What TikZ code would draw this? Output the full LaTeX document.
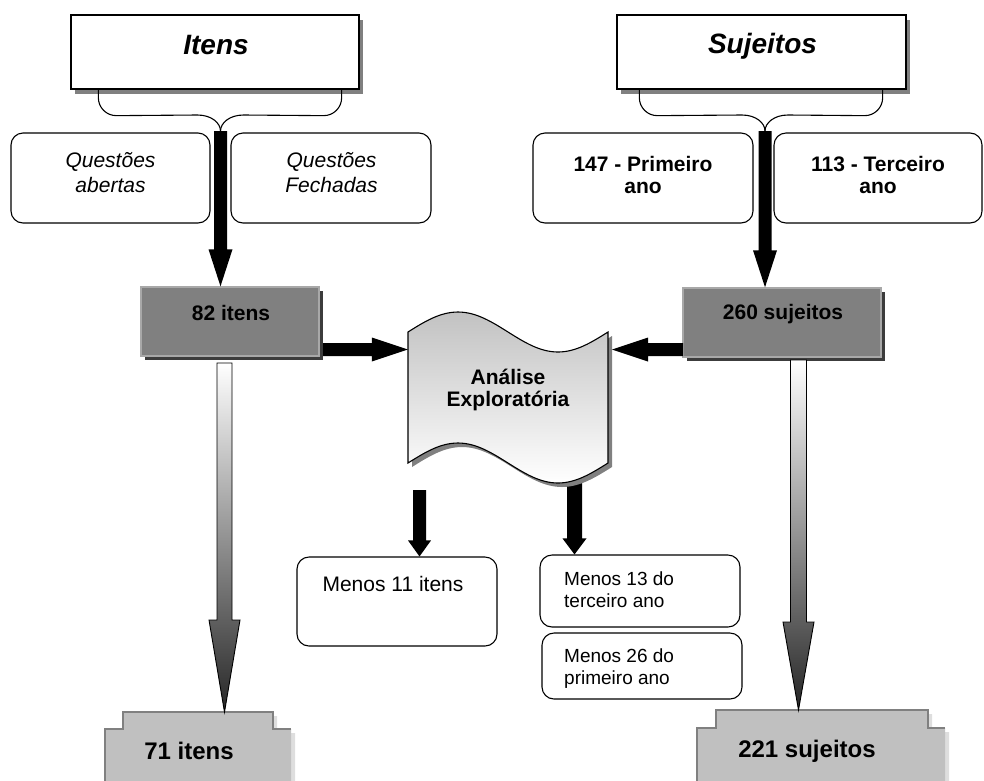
\documentclass[tikz,border=0pt]{standalone}
\usepackage{fontspec}
\setmainfont{Liberation Sans}
\usetikzlibrary{calc,shadows}

\definecolor{shadowgray}{HTML}{808080}
\definecolor{midgray}{HTML}{808080}
\definecolor{darkshadow}{HTML}{3C3C3C}
\definecolor{edgegray}{HTML}{A8A8A8}
\definecolor{plategray}{HTML}{C0C0C0}
\definecolor{paleshadow}{HTML}{DEDEDE}
\definecolor{tapetop}{HTML}{C2C2C2}

% block arrow: style, tail, tip, shaft half width, head half width, head length
\newcommand\blockarrow[6]{%
  \path (#2) coordinate (batail) (#3) coordinate (batip);
  \path ($(batip)!#6!(batail)$) coordinate (baneck);
  \path[#1] ($(batail)!#4!90:(batip)$) -- ($(baneck)!#4!90:(batip)$)
    -- ($(baneck)!#5!90:(batip)$) -- (batip) -- ($(baneck)!#5!-90:(batip)$)
    -- ($(baneck)!#4!-90:(batip)$) -- ($(batail)!#4!-90:(batip)$) -- cycle;
}

% outline of the wavy tape
\newcommand\tapepath{(408,332) sin (458,312) cos (508,332) sin (558,352) cos (608,332)
  -- (608,463) sin (558,483) cos (508,463) sin (458,443) cos (408,463) -- cycle}

\tikzset{
  titlebox/.style={draw=black, line width=1.3pt, fill=white, inner sep=0,
    drop shadow={shadow xshift=4pt, shadow yshift=-5pt, fill=shadowgray, opacity=1}},
  roundbox/.style={draw=black, line width=1.1pt, fill=white, rounded corners=12pt, inner sep=0},
  countbox/.style={draw=edgegray, line width=1.4pt, fill=midgray, inner sep=0,
    drop shadow={shadow xshift=4pt, shadow yshift=-4pt, fill=darkshadow, opacity=1}},
  headtxt/.style={font=\fontsize{28}{32}\selectfont\bfseries\itshape, inner sep=0},
  itxt/.style={font=\fontsize{21}{24.5}\selectfont\itshape, inner sep=0, align=center},
  btxt/.style={font=\fontsize{21}{22}\selectfont\bfseries, inner sep=0, align=center},
  bigtxt/.style={font=\fontsize{24}{28}\selectfont\bfseries, inner sep=0},
  rtxt/.style={font=\fontsize{21}{24}\selectfont, inner sep=0},
  stxt/.style={font=\fontsize{19}{21.5}\selectfont, inner sep=0, align=left},
  brace/.style={draw=black, line width=1.1pt},
  solidarrow/.style={fill=black},
  fadearrow/.style={top color=white, middle color=black!22, bottom color=black!85,
    draw=black, line width=0.9pt},
}

\begin{document}
\begin{tikzpicture}[x=1pt, y=-1pt]
\useasboundingbox (0,0) rectangle (984,780);

% ---------- top groups ----------
\node[titlebox, minimum width=288pt, minimum height=74pt] (itens) at (215,52) {};
\node[headtxt, anchor=base] (titens) at (216,54) {Itens};
\node[titlebox, minimum width=289pt, minimum height=74pt] (sujeitos) at (761.5,52) {};
\node[headtxt, anchor=base] (tsujeitos) at (762.5,53) {Sujeitos};

\coordinate (bi) at (220.5,131);
\coordinate (bs) at (765,131);

% curly connectors under the title boxes
\draw[brace] ([xshift=28pt]itens.south west) -- ++(0,8)
  .. controls +(0,10) and +(-10,0) .. ++(18,18) -- ($(bi)+(-23,-16)$)
  .. controls +(14,0) and +(0,-8) .. (bi);
\draw[brace] ([xshift=-18pt]itens.south east) -- ++(0,8)
  .. controls +(0,10) and +(10,0) .. ++(-18,18) -- ($(bi)+(23,-16)$)
  .. controls +(-14,0) and +(0,-8) .. (bi);
\draw[brace] ([xshift=23pt]sujeitos.south west) -- ++(0,8)
  .. controls +(0,10) and +(-10,0) .. ++(18,18) -- ($(bs)+(-23,-16)$)
  .. controls +(14,0) and +(0,-8) .. (bs);
\draw[brace] ([xshift=-24pt]sujeitos.south east) -- ++(0,8)
  .. controls +(0,10) and +(10,0) .. ++(-18,18) -- ($(bs)+(23,-16)$)
  .. controls +(-14,0) and +(0,-8) .. (bs);

\node[roundbox, minimum width=199pt, minimum height=90pt] (qa) at (110.5,178) {};
\node[itxt, anchor=base] (tqa) at (110.5,192) {Questões\\abertas};
\node[roundbox, minimum width=200pt, minimum height=90pt] (qf) at (331,178) {};
\node[itxt, anchor=base] (tqf) at (331.5,192) {Questões\\Fechadas};
\node[roundbox, minimum width=220pt, minimum height=90pt] (p147) at (643,178) {};
\node[btxt, anchor=base] (tp147) at (643,193) {147 - Primeiro\\ano};
\node[roundbox, minimum width=208pt, minimum height=90pt] (t113) at (878,178) {};
\node[btxt, anchor=base] (tt113) at (878,193) {113 - Terceiro\\ano};

% ---------- counts ----------
\node[countbox, minimum width=178pt, minimum height=69pt] (n82) at (230,321.5) {};
\node[btxt, anchor=base] (t82) at (231,320) {82 itens};
\node[countbox, minimum width=198pt, minimum height=69pt] (n260) at (782,322.5) {};
\node[btxt, anchor=base] (t260) at (783,319) {260 sujeitos};

\blockarrow{solidarrow}{bi}{bi |- n82.north}{6.5pt}{12pt}{37pt}
\blockarrow{solidarrow}{bs}{bs |- n260.north}{6.5pt}{12pt}{37pt}

% ---------- exploratory analysis ----------
\node[minimum width=200pt, minimum height=131pt, inner sep=0] (tape) at (508,397.5) {};
\coordinate (a82) at (323,349.5);
\coordinate (a260) at (683,349.5);
\blockarrow{solidarrow}{a82}{tape.west |- a82}{6.5pt}{12pt}{36pt}
\blockarrow{solidarrow}{a260}{612,349.5}{6.5pt}{12pt}{36pt}

\coordinate (d11) at (419.5,490);
\coordinate (d13) at (574.5,480);

\node[roundbox, minimum width=200pt, minimum height=89pt] (m11) at (397,601.5) {};
\node[rtxt, anchor=base] (tm11) at (393,591) {Menos 11 itens};
\node[roundbox, minimum width=200pt, minimum height=72pt] (m13) at (640,591) {};
\node[stxt, anchor=base west] (tm13) at (564,607) {Menos 13 do\\terceiro ano};
\node[roundbox, minimum width=200pt, minimum height=66pt] (m26) at (642,666) {};
\node[stxt, anchor=base west] (tm26) at (564,684) {Menos 26 do\\primeiro ano};

\blockarrow{solidarrow}{d11}{d11 |- m11.north}{6.5pt}{11.5pt}{16pt}
\blockarrow{solidarrow}{d13}{d13 |- m13.north}{7.5pt}{12pt}{16pt}

% wavy tape shape with its shadow
\fill[shadowgray, shift={(4,4)}] \tapepath;
\path[top color=tapetop, bottom color=white, draw=black, line width=1.1pt] \tapepath;
\node[btxt, anchor=base] (ttape) at (508,406) {Análise\\Exploratória};

% ---------- final counts ----------
\coordinate (f71) at (224.5,712);
\coordinate (f221) at (798.5,710);
\coordinate (g71) at (224.5,363);
\coordinate (g221) at (798.5,360);

\fill[paleshadow] (108,790) -- (108,733) -- (126,733) -- (126,716) -- (277,716)
  -- (277,733) -- (295,733) -- (295,790) -- cycle;
\fill[plategray] (105,790) -- (105,729) -- (123,729) -- (123,712) -- (273,712)
  -- (273,729) -- (291,729) -- (291,790) -- cycle;
\draw[shadowgray, line width=1.4pt] (105,790) -- (105,729) -- (123,729) -- (123,712)
  -- (273,712) -- (273,729) -- (291,729);
\node[bigtxt, anchor=base] (t71) at (189,759) {71 itens};

\fill[paleshadow] (700,790) -- (700,732) -- (719,732) -- (719,714) -- (932,714)
  -- (932,732) -- (949,732) -- (949,790) -- cycle;
\fill[plategray] (697,790) -- (697,728) -- (716,728) -- (716,710) -- (928,710)
  -- (928,728) -- (945,728) -- (945,790) -- cycle;
\draw[shadowgray, line width=1.4pt] (697,790) -- (697,728) -- (716,728) -- (716,710)
  -- (928,710) -- (928,728) -- (945,728);
\node[bigtxt, anchor=base] (t221) at (807,757) {221 sujeitos};

\blockarrow{fadearrow}{g71}{f71}{7.5pt}{15.5pt}{92pt}
\blockarrow{fadearrow}{g221}{f221}{8pt}{15.5pt}{88pt}
\end{tikzpicture}
\end{document}
